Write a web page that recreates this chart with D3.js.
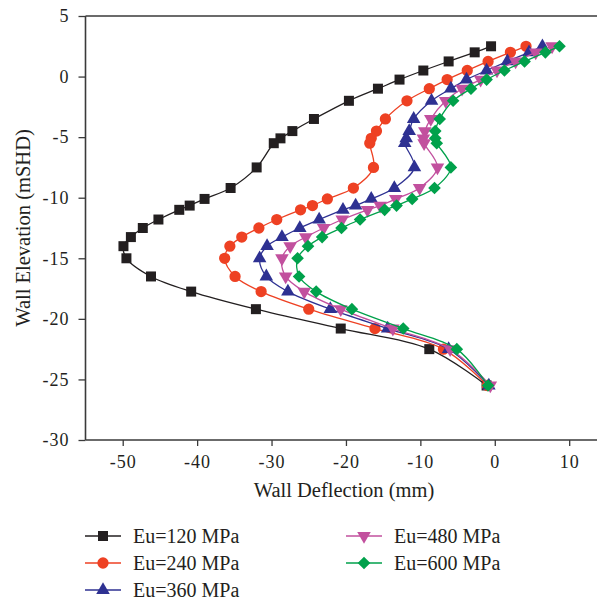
<!DOCTYPE html>
<html>
<head>
<meta charset="utf-8">
<script src="https://cdn.jsdelivr.net/npm/d3@7/dist/d3.min.js"></script>
<style>
  html, body { margin: 0; padding: 0; background: #fff; }
  svg { display: block; }
  text { font-family: "Liberation Serif", "Times New Roman", serif; fill: #231f20; }
</style>
</head>
<body>
<svg id="chart" width="597" height="601"></svg>
<script>
// Wall elevation (mSHD) of each monitoring node, shared by every case
const elevations = [2.5, 2.0, 1.25, 0.5, -0.25, -1.0, -2.0, -3.5, -4.5, -5.1, -5.5, -7.5, -9.2,
  -10.1, -10.65, -11.0, -11.8, -12.5, -13.25, -14.0, -15.0, -16.5, -17.75, -19.2, -20.8, -22.5, -25.5];

// Wall deflection (mm) for each undrained modulus case
const defl120 = [-0.5, -2.7, -6.2, -9.6, -12.8, -15.7, -19.6, -24.3, -27.2, -28.8, -29.7, -32.0, -35.5,
  -39.0, -41.0, -42.4, -45.2, -47.3, -48.9, -49.9, -49.5, -46.2, -40.8, -32.1, -20.7, -8.8, -1.1];
const defl240 = [4.2, 2.1, -0.9, -3.7, -6.4, -8.8, -11.8, -14.7, -15.9, -16.6, -16.8, -16.3, -19.0,
  -22.5, -24.5, -26.1, -29.3, -31.7, -34.0, -35.6, -36.3, -34.9, -31.4, -25.0, -16.1, -6.9, -1.0];
const defl360 = [6.4, 4.6, 1.7, -1.1, -3.8, -5.9, -8.5, -10.9, -11.5, -11.9, -12.1, -10.8, -13.5,
  -16.6, -18.7, -20.4, -23.6, -26.2, -28.6, -30.6, -31.6, -30.7, -27.8, -22.1, -14.4, -6.2, -0.8];
const defl480 = [7.7, 5.5, 2.8, 0.3, -1.9, -4.4, -6.6, -8.6, -9.4, -9.6, -9.5, -7.7, -10.1,
  -13.3, -15.4, -17.1, -20.5, -23.0, -25.4, -27.5, -28.6, -28.1, -25.6, -20.7, -13.7, -6.0, -0.6];
const defl600 = [8.7, 6.8, 4.0, 1.3, -1.1, -3.2, -5.6, -7.4, -8.0, -8.0, -7.8, -5.9, -8.1,
  -11.1, -13.2, -14.8, -18.1, -20.6, -23.2, -25.1, -26.5, -26.3, -24.0, -19.2, -12.3, -5.1, -0.9];

const seriesNames = ["Eu=120 MPa", "Eu=240 MPa", "Eu=360 MPa", "Eu=480 MPa", "Eu=600 MPa"];
const seriesValues = [defl120, defl240, defl360, defl480, defl600];
const seriesColors = ["#231f20", "#ee4123", "#2e3192", "#c2509e", "#00a14b"];
const seriesShapes = ["square", "circle", "triangle", "triangleDown", "diamond"];

const xTicks = [-50, -40, -30, -20, -10, 0, 10];
const yTicks = [5, 0, -5, -10, -15, -20, -25, -30];

const svg = d3.select("#chart");
const x = d3.scaleLinear().domain([-55, 15]).range([85.5, 606.4]);
const y = d3.scaleLinear().domain([-30, 5]).range([440, 16]);

const axisColor = "#3a3a3a";
// Plain hyphen for negative tick labels
const tickFmt = d => String(d);

// Symbol generator per marker shape
function markerPath(shape) {
  switch (shape) {
    case "square": return d3.symbol(d3.symbolSquare, 100)();
    case "circle": return d3.symbol(d3.symbolCircle, 100)();
    case "triangle": return d3.symbol(d3.symbolTriangle, 80)();
    case "triangleDown": return d3.symbol(d3.symbolTriangle, 80)();
    case "diamond": return d3.symbol(d3.symbolSquare, 80)();
  }
}
function markerRotation(shape) {
  if (shape === "triangleDown") return 180;
  if (shape === "diamond") return 45;
  return 0;
}

// Top frame line
svg.append("line")
  .attr("x1", x(-55)).attr("x2", 597)
  .attr("y1", y(5)).attr("y2", y(5))
  .attr("stroke", axisColor).attr("stroke-width", 1.4);

// Bottom axis with minor ticks
const xAxisG = svg.append("g").attr("transform", `translate(0,${y(-30)})`);
xAxisG.call(d3.axisBottom(x).tickValues(d3.range(-55, 16, 5)).tickSize(4).tickFormat(""))
  .call(g => g.select(".domain").remove());
xAxisG.call(d3.axisBottom(x).tickValues(xTicks).tickSize(6).tickPadding(9).tickFormat(tickFmt))
  .call(g => g.select(".domain").remove());
xAxisG.selectAll("line").attr("stroke", axisColor).attr("stroke-width", 1.3);
xAxisG.selectAll("text").attr("font-size", 18).attr("letter-spacing", 1)
  .attr("font-family", "Liberation Serif, serif").attr("fill", "#231f20");
xAxisG.append("line").attr("x1", x(-55)).attr("x2", 597).attr("y1", 0).attr("y2", 0)
  .attr("stroke", axisColor).attr("stroke-width", 1.4);

// Left axis with minor ticks
const yAxisG = svg.append("g").attr("transform", `translate(${x(-55)},0)`);
yAxisG.call(d3.axisLeft(y).tickValues(d3.range(-30, 5.1, 2.5)).tickSize(5).tickFormat(""))
  .call(g => g.select(".domain").remove());
yAxisG.call(d3.axisLeft(y).tickValues(yTicks).tickSize(7).tickPadding(9).tickFormat(tickFmt))
  .call(g => g.select(".domain").remove());
yAxisG.selectAll("line").attr("stroke", axisColor).attr("stroke-width", 1.3);
yAxisG.selectAll("text").attr("font-size", 18).attr("letter-spacing", 1)
  .attr("font-family", "Liberation Serif, serif").attr("fill", "#231f20");
yAxisG.append("line").attr("x1", 0).attr("x2", 0).attr("y1", y(5)).attr("y2", y(-30))
  .attr("stroke", axisColor).attr("stroke-width", 1.6);

// Axis titles
svg.append("text")
  .attr("x", 344).attr("y", 497)
  .attr("text-anchor", "middle").attr("font-size", 20.5)
  .text("Wall Deflection (mm)");
svg.append("text")
  .attr("transform", `translate(30,228) rotate(-90)`)
  .attr("text-anchor", "middle").attr("font-size", 20.5)
  .text("Wall Elevation (mSHD)");

// Deflection profiles
const line = d3.line()
  .x(d => x(d[0])).y(d => y(d[1]))
  .curve(d3.curveCatmullRom.alpha(0.5));

seriesValues.forEach((vals, i) => {
  const pts = vals.map((v, j) => [v, elevations[j]]);
  const g = svg.append("g");
  g.append("path").datum(pts)
    .attr("d", line)
    .attr("fill", "none")
    .attr("stroke", seriesColors[i])
    .attr("stroke-width", 1.3);
  g.selectAll("path.marker").data(pts).join("path")
    .attr("class", "marker")
    .attr("d", markerPath(seriesShapes[i]))
    .attr("transform", d => `translate(${x(d[0])},${y(d[1])}) rotate(${markerRotation(seriesShapes[i])})`)
    .attr("fill", seriesColors[i]);
});

// Legend
const legendPos = [[85, 536], [85, 563], [85, 590], [346, 536], [346, 563]];
seriesNames.forEach((name, i) => {
  const [lx, ly] = legendPos[i];
  const g = svg.append("g").attr("transform", `translate(${lx},${ly})`);
  g.append("line").attr("x1", 0).attr("x2", 36).attr("y1", 0).attr("y2", 0)
    .attr("stroke", seriesColors[i]).attr("stroke-width", 1.3);
  g.append("path").attr("d", markerPath(seriesShapes[i]))
    .attr("transform", `translate(18,0) rotate(${markerRotation(seriesShapes[i])})`)
    .attr("fill", seriesColors[i]);
  g.append("text").attr("x", 48).attr("y", 7).attr("font-size", 20)
    .text(name);
});
</script>
</body>
</html>
